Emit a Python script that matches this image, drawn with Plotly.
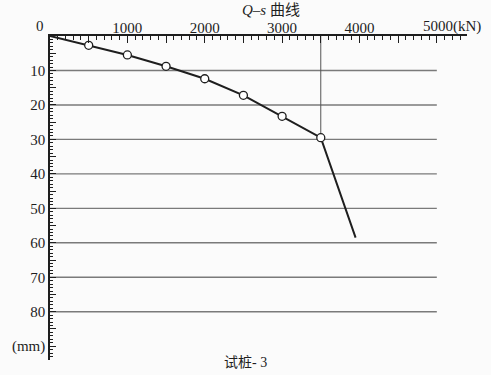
import plotly.graph_objects as go

# Data (Q in kN, s in mm)
load_q = [0, 500, 1000, 1500, 2000, 2500, 3000, 3500, 3950]
settle_s = [0, 2.7, 5.5, 8.8, 12.4, 17.2, 23.3, 29.5, 58.5]
marker_q = load_q[1:8]
marker_s = settle_s[1:8]

x_tick_vals = [0, 500, 1000, 1500, 2000, 2500, 3000, 3500, 4000, 4500, 5000]
x_tick_text = ["", "", "1000", "", "2000", "", "3000", "", "4000", "", ""]
y_tick_vals = [0, 5, 10, 15, 20, 25, 30, 35, 40, 45, 50, 55, 60, 65, 70, 75, 80, 85, 90]
y_tick_text = ["", "", "10", "", "20", "", "30", "", "40", "", "50", "", "60", "", "70", "", "80", "", "(mm)"]
grid_s = [10, 20, 30, 40, 50, 60, 70, 80]
grid_end_q = 5000
yield_q = 3500
yield_s = 29.5

serif = "Liberation Serif"
ink = "#1e1e1e"

fig = go.Figure()

fig.add_trace(go.Scatter(
    x=load_q, y=settle_s, mode="lines",
    line=dict(color=ink, width=2), hoverinfo="skip", showlegend=False,
))
fig.add_trace(go.Scatter(
    x=marker_q, y=marker_s, mode="markers",
    marker=dict(symbol="circle", size=8, color="white", line=dict(color=ink, width=1.3)),
    showlegend=False,
))

shapes = []
for g in grid_s:
    shapes.append(dict(type="line", xref="x", yref="y", x0=0, x1=grid_end_q, y0=g, y1=g,
                       line=dict(color="#7a7a7a", width=1.4), layer="below"))
shapes.append(dict(type="line", xref="x", yref="y", x0=yield_q, x1=yield_q, y0=0, y1=yield_s,
                   line=dict(color="#555", width=1), layer="below"))

annotations = [
    dict(text="<i>Q</i>–<i>s</i> 曲线", xref="paper", yref="paper", x=0.53, y=1.08, yanchor="middle",
         showarrow=False, font=dict(family="Liberation Serif, Noto Sans CJK SC", size=15, color=ink)),
    dict(text="0", xref="x", yref="paper", x=0, y=1.03, xshift=-10, yanchor="middle", showarrow=False,
         font=dict(family=serif, size=15, color=ink)),
    dict(text="5000(kN)", xref="x", yref="paper", x=5000, y=1.03, xshift=-16, xanchor="left", yanchor="middle",
         showarrow=False, font=dict(family=serif, size=15, color=ink)),
    dict(text="试桩- 3", xref="paper", yref="paper", x=0.47, y=0, yshift=-2, yanchor="middle", showarrow=False,
         font=dict(family="Liberation Serif, Noto Sans CJK SC", size=14, color=ink)),
]

fig.update_layout(
    width=491, height=375,
    margin=dict(l=50, r=24, t=36, b=15),
    paper_bgcolor="#fbfbfb", plot_bgcolor="#fbfbfb",
    shapes=shapes, annotations=annotations,
    xaxis=dict(
        side="top", range=[0, 5390], showgrid=False, zeroline=False,
        showline=True, linecolor=ink, linewidth=1.5,
        tickmode="array", tickvals=x_tick_vals, ticktext=x_tick_text,
        ticks="inside", ticklen=7, tickcolor=ink, tickwidth=1,
        ticklabelstandoff=-5,
        minor=dict(dtick=100, ticks="inside", ticklen=4, tickcolor=ink, showgrid=False),
        tickfont=dict(family=serif, size=15, color=ink),
    ),
    yaxis=dict(
        range=[94, 0], showgrid=False, zeroline=False,
        showline=True, linecolor=ink, linewidth=1.5,
        tickmode="array", tickvals=y_tick_vals, ticktext=y_tick_text,
        ticks="inside", ticklen=6, tickcolor=ink, tickwidth=1,
        minor=dict(dtick=1, ticks="inside", ticklen=3, tickcolor=ink, showgrid=False),
        tickfont=dict(family=serif, size=15, color=ink),
    ),
)

fig.write_html("out.html")
